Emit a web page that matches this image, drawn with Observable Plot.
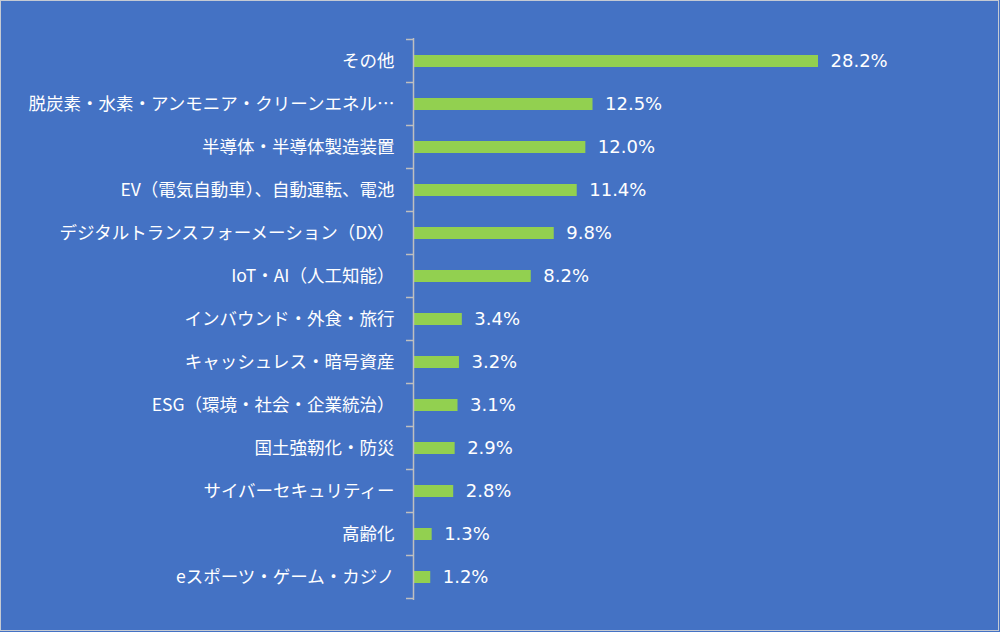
<!DOCTYPE html>
<html><head><meta charset="utf-8">
<script src="https://cdn.jsdelivr.net/npm/d3@7"></script>
<script src="https://cdn.jsdelivr.net/npm/@observablehq/plot@0.6"></script>
<style>
html,body{margin:0;padding:0;background:#fff}
#chart{position:relative;width:1000px;height:632px;background:#4472C4;overflow:hidden}
#chart::after{content:"";position:absolute;left:0;top:0;right:1px;bottom:1px;border:1px solid #C5CAD3;pointer-events:none}
#chart svg{display:block}
</style></head><body><div id="chart"></div>
<script>
const categories = [
  "その他",
  "脱炭素・水素・アンモニア・クリーンエネル…",
  "半導体・半導体製造装置",
  "EV（電気自動車）、自動運転、電池",
  "デジタルトランスフォーメーション（DX）",
  "IoT・AI（人工知能）",
  "インバウンド・外食・旅行",
  "キャッシュレス・暗号資産",
  "ESG（環境・社会・企業統治）",
  "国土強靭化・防災",
  "サイバーセキュリティー",
  "高齢化",
  "eスポーツ・ゲーム・カジノ"
];
const values = [28.2, 12.5, 12.0, 11.4, 9.8, 8.2, 3.4, 3.2, 3.1, 2.9, 2.8, 1.3, 1.2];
const data = categories.map((c, i) => ({category: c, value: values[i]}));

const font = '"Noto Sans CJK JP", "Noto Sans", sans-serif';
const numFont = '"DejaVu Sans", "Noto Sans", sans-serif';
const axisColor = "#BFBFBF";

// tick marks at band boundaries, computed from the y band scale
const boundaryTicks = (index, scales, vals, dims) => {
  const y = scales.y;
  const bw = typeof y.bandwidth === "function" ? y.bandwidth() : (y.bandwidth || 0);
  let step = typeof y.step === "function" ? y.step() : y.step;
  if (!step) step = y(categories[1]) - y(categories[0]);
  const x0 = dims.marginLeft;
  const g = d3.create("svg:g");
  const ys = categories.map(c => y(c) + bw / 2 - step / 2);
  ys.push(y(categories[categories.length - 1]) + bw / 2 + step / 2);
  g.selectAll("line").data(ys).join("line")
    .attr("x1", x0 - 7).attr("x2", x0)
    .attr("y1", d => d).attr("y2", d => d)
    .attr("stroke", axisColor).attr("stroke-width", 1.5);
  return g.node();
};

const plot = Plot.plot({
  width: 1000,
  height: 632,
  marginLeft: 413,
  marginRight: 182,
  marginTop: 38,
  marginBottom: 32,
  style: {background: "transparent", color: "white", fontFamily: font, fontSize: "18px"},
  x: {domain: [0, 28.2], axis: null},
  y: {domain: categories, paddingInner: 0.72, paddingOuter: 0.36, axis: null},
  marks: [
    Plot.barX(data, {x: "value", y: "category", fill: "#92D050"}),
    Plot.ruleX([0], {stroke: axisColor, strokeWidth: 1.5}),
    boundaryTicks,
    Plot.axisY({tickSize: 0, tickPadding: 19, label: null, fill: "white", fontSize: 17.5, fontFamily: font}),
    Plot.text(data, {x: "value", y: "category", text: d => d.value.toFixed(1) + "%", dx: 12, textAnchor: "start", fill: "white", fontSize: 18, fontFamily: numFont})
  ]
});
document.getElementById("chart").appendChild(plot);
</script>
</body></html>
